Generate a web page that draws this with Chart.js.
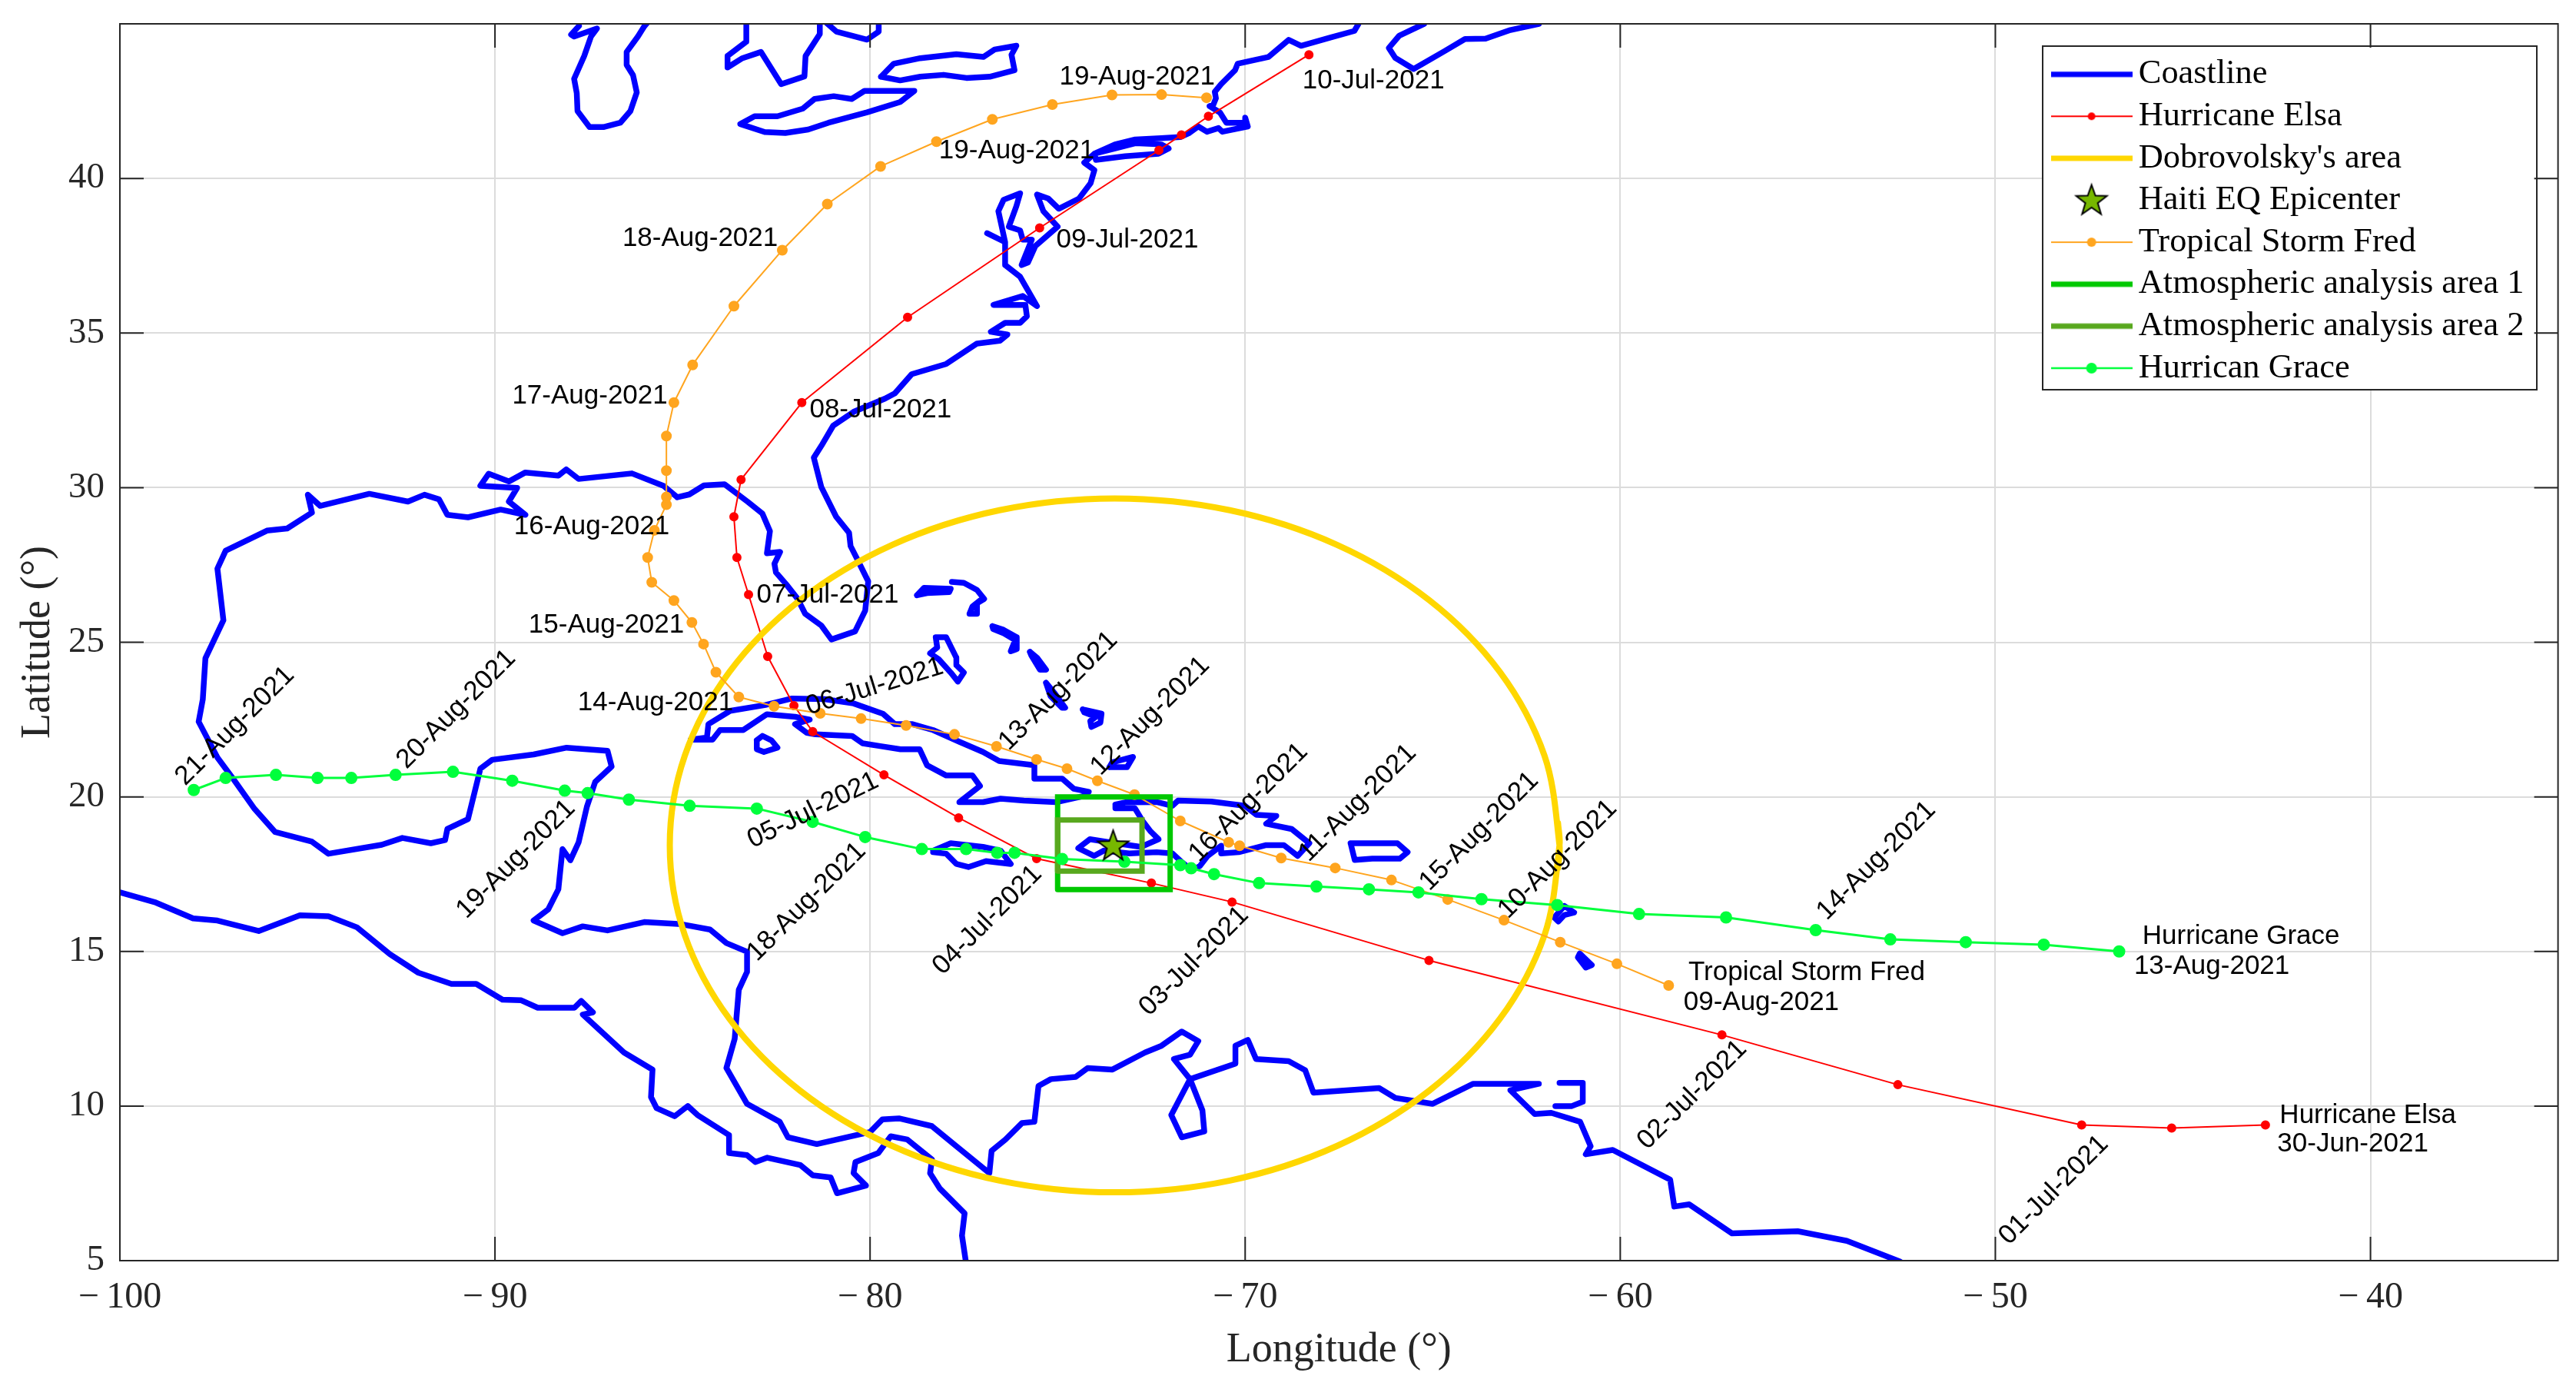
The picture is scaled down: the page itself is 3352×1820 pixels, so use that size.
<!DOCTYPE html>
<html><head><meta charset="utf-8"><style>html,body{margin:0;padding:0;background:#fff}canvas{display:block}</style>
<script src="https://cdn.jsdelivr.net/npm/chart.js@4"></script></head>
<body><canvas id="c" width="3352" height="1820"></canvas>
<script>
// ---- Values (longitude, latitude) ----
const elsaTrack=[[-42.8,9.39],[-45.3,9.29],[-47.7,9.39],[-52.6,10.69],[-57.29,12.3],[-65.1,14.71],[-70.35,16.6],[-72.5,17.21],[-75.56,18.0],[-77.64,19.32],[-79.63,20.71],[-81.53,22.11],[-82.03,22.95],[-82.73,24.54],[-83.24,26.54],[-83.55,27.74],[-83.63,29.06],[-83.44,30.26],[-81.82,32.75],[-79.0,35.51],[-75.48,38.4],[-72.3,40.91],[-71.7,41.41],[-70.98,42.01],[-68.3,44.0]];
const fredTrack=[[-58.71,13.9],[-60.09,14.6],[-61.6,15.3],[-63.1,16.01],[-64.6,16.68],[-66.1,17.31],[-67.6,17.7],[-69.04,18.02],[-70.15,18.42],[-70.44,18.53],[-71.73,19.22],[-72.95,20.07],[-73.94,20.52],[-74.75,20.91],[-75.56,21.21],[-76.63,21.63],[-77.75,22.02],[-79.04,22.31],[-80.24,22.53],[-81.33,22.7],[-82.56,22.93],[-83.5,23.23],[-84.11,24.03],[-84.44,24.94],[-84.75,25.64],[-85.23,26.35],[-85.82,26.94],[-85.93,27.74],[-85.75,28.62],[-85.43,29.45],[-85.43,29.7],[-85.43,30.55],[-85.43,31.67],[-85.23,32.75],[-84.73,33.97],[-83.63,35.87],[-82.34,37.68],[-81.14,39.17],[-79.72,40.39],[-78.23,41.19],[-76.74,41.91],[-75.14,42.39],[-73.55,42.7],[-72.23,42.71],[-71.03,42.61]];
const graceTrack=[[-46.7,15.0],[-48.71,15.22],[-50.79,15.3],[-52.8,15.39],[-54.79,15.69],[-57.18,16.1],[-59.5,16.21],[-61.68,16.5],[-63.7,16.69],[-65.38,16.91],[-66.7,17.01],[-68.1,17.1],[-69.63,17.21],[-70.83,17.5],[-71.44,17.69],[-71.73,17.79],[-73.22,17.9],[-74.88,17.99],[-76.15,18.19],[-76.61,18.19],[-77.44,18.31],[-78.62,18.31],[-80.13,18.7],[-81.53,19.19],[-83.02,19.62],[-84.81,19.71],[-86.43,19.91],[-87.53,20.12],[-88.14,20.2],[-89.54,20.52],[-91.12,20.81],[-92.65,20.71],[-93.83,20.61],[-94.73,20.61],[-95.84,20.71],[-97.18,20.61],[-98.03,20.22]];
const dobrovolskyArea=[[-61.66,17.7],[-61.62,18.43],[-62.02,21.33],[-63.21,24.04],[-65.09,26.36],[-67.55,28.15],[-70.41,29.27],[-73.48,29.65],[-76.55,29.27],[-79.41,28.15],[-81.87,26.36],[-83.75,24.04],[-84.94,21.33],[-85.34,18.43],[-84.94,15.53],[-83.75,12.82],[-81.87,10.5],[-79.41,8.71],[-76.55,7.59],[-73.48,7.21],[-70.41,7.59],[-67.55,8.71],[-65.09,10.5],[-63.21,12.82],[-62.02,15.53],[-61.62,18.43],[-61.66,19.15]];
const epicenter=[[-73.52,18.42]];
const analysisArea1=[[-75,17],[-72,17],[-72,20],[-75,20],[-75,17]];
const analysisArea2=[[-75,17.6],[-72.75,17.6],[-72.75,19.25],[-75,19.25],[-75,17.6]];

const coastAtlantic=[[-66.98,45.0],[-67.09,44.77],[-67.75,44.55],[-68.51,44.29],[-68.84,44.48],[-69.38,43.93],[-70.2,43.71],[-70.27,43.5],[-70.64,43.05],[-70.81,42.8],[-70.78,42.59],[-70.85,42.38],[-70.95,42.34],[-70.67,42.13],[-70.5,41.8],[-70.0,41.8],[-70.0,41.97],[-69.93,41.68],[-70.61,41.51],[-70.71,41.63],[-71.02,41.51],[-71.25,41.68],[-71.49,41.47],[-71.73,41.34],[-72.24,41.3],[-72.93,41.26],[-73.47,41.1],[-74.02,40.8],[-73.98,40.6],[-73.2,40.72],[-72.31,40.8],[-72.04,40.97],[-72.24,41.1],[-72.93,41.14],[-73.47,40.97],[-74.02,40.8],[-74.29,40.51],[-74.02,40.27],[-74.12,39.85],[-74.43,39.35],[-74.97,39.02],[-75.25,39.35],[-75.55,39.48],[-75.38,38.94],[-75.0,38.44],[-75.59,37.82],[-75.79,37.28],[-75.96,37.2],[-75.69,38.02],[-75.93,38.02],[-76.0,38.32],[-76.3,38.44],[-76.1,39.1],[-76.0,39.52],[-76.44,39.31],[-76.58,38.94],[-76.4,37.94],[-76.88,38.23],[-76.4,37.94],[-76.4,37.2],[-76.0,36.82],[-75.55,35.87],[-75.93,36.2],[-76.71,35.91],[-75.86,35.91],[-75.82,35.54],[-76.0,35.33],[-76.4,35.33],[-76.78,35.04],[-76.34,34.95],[-76.54,34.75],[-77.15,34.66],[-77.97,34.0],[-78.89,33.67],[-79.34,33.05],[-79.6,32.88],[-80.44,32.45],[-80.98,32.01],[-81.3,31.35],[-81.5,30.97],[-81.3,30.02],[-80.91,29.07],[-80.56,28.54],[-80.52,28.11],[-80.36,27.73],[-80.05,26.97],[-80.13,26.02],[-80.4,25.35],[-81.03,25.09],[-81.3,25.54],[-81.73,25.92],[-81.93,26.4],[-82.24,26.88],[-82.51,27.26],[-82.55,27.54],[-82.4,27.92],[-82.75,27.88],[-82.67,28.59],[-82.87,29.16],[-83.26,29.54],[-83.88,30.11],[-84.43,30.07],[-84.82,29.78],[-85.14,29.69]];
const coastGulf=[[-85.14,29.69],[-85.51,30.06],[-86.35,30.46],[-87.77,30.28],[-88.1,30.59],[-88.31,30.39],[-89.19,30.49],[-89.63,30.2],[-90.17,30.45],[-90.39,30.06],[-89.41,29.99],[-89.63,29.55],[-89.19,29.12],[-89.85,29.29],[-90.72,29.04],[-91.27,29.12],[-91.49,29.62],[-91.88,29.77],[-92.32,29.55],[-93.35,29.8],[-94.66,29.41],[-94.99,29.77],[-94.88,29.19],[-95.54,28.68],[-96.08,28.61],[-97.18,27.96],[-97.4,27.38],[-97.24,25.71],[-97.72,24.48],[-97.79,23.15],[-97.9,22.43],[-97.4,21.27],[-96.96,20.55],[-96.41,19.61],[-95.86,18.86],[-94.88,18.55],[-94.44,18.16],[-93.02,18.45],[-92.47,18.67],[-91.71,18.5],[-91.33,18.6],[-91.27,18.96],[-90.72,19.28],[-90.39,20.91],[-90.07,21.2],[-88.97,21.37],[-88.09,21.59],[-87.0,21.49],[-86.89,20.98],[-87.33,20.48],[-87.55,19.68],[-87.77,18.53],[-87.99,17.95],[-88.2,18.31],[-88.31,17.01],[-88.58,16.36],[-88.97,16.0],[-88.2,15.59],[-87.66,15.81],[-87.0,15.68],[-86.02,15.95],[-85.03,15.88],[-84.27,15.71],[-83.83,15.27],[-83.28,14.99],[-83.28,14.34],[-83.5,13.76],[-83.61,12.17],[-83.83,11.23],[-83.28,10.07],[-82.41,9.49],[-82.19,8.99],[-81.42,8.77],[-80.0,9.16],[-79.67,9.57],[-79.23,9.6],[-78.35,9.35],[-77.7,8.7],[-76.82,7.83],[-76.76,8.55],[-76.39,8.92],[-75.95,9.45],[-75.62,9.49],[-75.51,10.65],[-75.18,10.87],[-74.52,10.94],[-74.2,11.23],[-73.54,11.18],[-72.67,11.73],[-72.23,11.95],[-71.69,12.41],[-71.25,12.1],[-71.47,11.66],[-71.9,11.52],[-71.47,10.87],[-71.97,9.71],[-71.69,8.99],[-71.09,9.18],[-71.14,9.86],[-71.47,10.87],[-70.26,11.37],[-70.26,11.95],[-69.93,12.14],[-69.71,11.52],[-68.84,11.45],[-68.4,11.16],[-68.18,10.43],[-66.43,10.58],[-65.99,10.26],[-65.01,10.07],[-63.92,10.72],[-62.17,10.72],[-62.93,10.51],[-62.28,9.74],[-61.84,9.78],[-61.07,9.49],[-60.79,8.7],[-60.92,8.44],[-60.2,8.58],[-58.67,7.62],[-58.56,6.75],[-58.16,6.82],[-57.02,5.88],[-55.27,5.95],[-53.96,5.64],[-52.54,4.97]];
const coastPacific=[[-100,16.91],[-99.04,16.58],[-98.05,16.07],[-97.4,16.0],[-96.3,15.66],[-95.2,16.17],[-94.44,16.14],[-93.68,15.78],[-92.8,14.91],[-92.04,14.31],[-91.16,13.95],[-90.5,13.95],[-89.8,13.44],[-89.3,13.42],[-88.86,13.18],[-87.88,13.18],[-87.7,13.4],[-87.39,13.03],[-87.66,12.96],[-86.56,11.73],[-85.8,11.18],[-85.84,10.29],[-85.69,9.93],[-85.21,9.67],[-84.86,10.0],[-84.6,9.71],[-83.76,9.06],[-83.76,8.48],[-83.28,8.41],[-83.06,8.19],[-82.74,8.33],[-81.86,8.09],[-81.53,7.76],[-81.05,7.69],[-80.88,7.18],[-80.11,7.43],[-80.44,7.83],[-80.39,8.19],[-79.78,8.48],[-79.45,9.02],[-79.01,8.92],[-78.35,8.27],[-78.4,7.83],[-78.14,7.33],[-77.48,6.53],[-77.55,5.81],[-77.44,4.91]];
const coastNovaScotia=[[-62.17,45],[-62.93,44.8],[-63.59,44.52],[-64.14,44.51],[-64.68,44.12],[-65.51,43.54],[-66.0,43.9],[-66.17,44.22],[-65.89,44.62],[-65.23,45.0]];
const lakeMichigan=[[-87.76,44.93],[-87.97,44.65],[-87.89,44.59],[-87.28,44.85],[-87.44,44.59],[-87.62,43.96],[-87.89,43.22],[-87.82,42.76],[-87.8,42.18],[-87.48,41.66],[-87.11,41.66],[-86.66,41.8],[-86.39,42.18],[-86.22,42.78],[-86.32,43.34],[-86.49,43.67],[-86.49,44.09],[-86.19,44.59],[-86.02,44.92],[-85.88,45.12]];
const lakeHuron=[[-83.3,45.08],[-83.3,44.42],[-83.8,43.96],[-83.8,43.59],[-83.42,43.88],[-82.91,44.09],[-82.37,43.05],[-81.75,43.3],[-81.72,43.96],[-81.34,44.67],[-81.34,45.08]];
const georgianBay=[[-81.17,45.04],[-80.9,44.75],[-80.08,44.49],[-79.77,44.75],[-79.77,45.04]];
const lakeErie=[[-83.46,41.76],[-83.08,42.01],[-82.47,42.01],[-81.79,42.26],[-81.48,42.57],[-80.97,42.66],[-80.49,42.57],[-80.15,42.83],[-78.82,42.83],[-79.2,42.47],[-80.08,42.14],[-81.11,41.8],[-81.65,41.58],[-82.26,41.47],[-82.81,41.5],[-83.46,41.76]];
const lakeOntario=[[-79.71,43.29],[-79.37,43.71],[-78.66,43.89],[-77.7,44.02],[-76.98,43.93],[-76.68,44.17],[-76.1,44.29],[-76.23,44.0],[-76.15,43.5],[-76.81,43.29],[-77.43,43.25],[-78.04,43.35],[-78.66,43.29],[-79.2,43.17],[-79.71,43.29]];
const cuba=[[-84.78,21.85],[-84.35,21.92],[-84.31,22.35],[-83.73,22.78],[-82.79,22.97],[-82.08,23.18],[-81.22,23.16],[-80.44,23.02],[-79.66,22.69],[-79.34,22.35],[-78.87,22.35],[-78.32,22.16],[-77.62,21.78],[-76.99,21.45],[-76.56,21.16],[-75.62,21.02],[-75.62,20.59],[-74.88,20.59],[-74.57,20.26],[-74.17,20.16],[-74.33,20.02],[-75.04,19.83],[-75.9,19.88],[-76.52,19.94],[-76.99,19.83],[-77.62,19.83],[-77.07,20.35],[-77.27,20.69],[-77.97,20.69],[-78.48,21.02],[-78.68,21.54],[-79.19,21.54],[-79.73,21.64],[-80.2,21.73],[-80.48,21.97],[-81.46,22.02],[-81.69,22.07],[-82.0,22.35],[-81.61,22.5],[-82.0,22.59],[-82.75,22.67],[-83.38,22.16],[-84.0,22.16],[-84.2,21.85],[-84.78,21.85]];
const juventud=[[-83.02,21.83],[-82.87,21.97],[-82.63,21.83],[-82.47,21.59],[-82.83,21.45],[-83.02,21.54],[-83.02,21.83]];
const andros=[[-78.25,25.16],[-77.97,25.16],[-77.7,24.5],[-77.7,24.26],[-77.5,24.02],[-77.66,23.73],[-77.85,24.02],[-78.17,24.45],[-78.4,24.64],[-78.21,24.83],[-78.25,25.16]];
const grandBahama=[[-78.75,26.52],[-78.56,26.76],[-77.85,26.73],[-77.89,26.62],[-78.48,26.59],[-78.75,26.52]];
const abaco=[[-77.82,26.95],[-77.5,26.92],[-77.15,26.69],[-76.96,26.4],[-77.15,26.26],[-77.15,25.92],[-77.35,25.92],[-77.27,26.16],[-77.07,26.35]];
const eleuthera=[[-76.74,25.52],[-76.44,25.4],[-76.09,25.16],[-76.09,24.78],[-76.25,24.71],[-76.13,25.07],[-76.44,25.29],[-76.72,25.43],[-76.74,25.52]];
const catIsland=[[-75.74,24.69],[-75.55,24.5],[-75.31,24.11],[-75.47,24.11],[-75.7,24.57],[-75.74,24.69]];
const longIsland=[[-75.31,23.69],[-75.08,23.35],[-74.8,22.88],[-74.88,22.88],[-75.19,23.26],[-75.31,23.69]];
const acklins=[[-74.33,22.83],[-73.83,22.69],[-73.86,22.4],[-74.1,22.26],[-74.13,22.45],[-73.98,22.59],[-74.29,22.73],[-74.33,22.83]];
const inagua=[[-73.62,20.96],[-73.55,21.11],[-72.99,21.29],[-73.15,20.96],[-73.62,20.96]];
const hispaniola=[[-73.46,19.75],[-73.2,19.82],[-72.36,19.83],[-71.94,19.71],[-71.79,19.88],[-70.9,19.85],[-70.01,19.71],[-69.7,19.42],[-69.17,19.38],[-69.44,19.13],[-68.76,18.96],[-68.29,18.5],[-68.6,18.09],[-68.97,18.44],[-69.44,18.44],[-70.17,18.21],[-70.64,18.17],[-70.64,18.42],[-71.0,18.09],[-71.21,17.76],[-71.42,17.63],[-71.68,17.88],[-71.94,18.17],[-72.36,18.21],[-73.09,18.17],[-73.77,18.26],[-74.03,18.09],[-74.45,18.34],[-74.14,18.63],[-73.72,18.55],[-72.78,18.38],[-72.31,18.63],[-72.52,18.88],[-72.73,19.21],[-72.94,19.63],[-73.46,19.63],[-73.46,19.75]];
const jamaica=[[-78.32,18.26],[-77.85,18.5],[-76.99,18.38],[-76.52,18.26],[-76.25,17.83],[-76.91,17.92],[-77.38,17.73],[-77.7,17.83],[-77.97,18.16],[-78.32,18.21]];
const puertoRico=[[-67.19,18.5],[-65.94,18.5],[-65.67,18.21],[-65.88,18.0],[-66.61,18.0],[-67.08,17.96],[-67.19,18.5]];
const guadeloupe=[[-61.76,16.1],[-61.49,16.47],[-61.23,16.26],[-61.49,16.18],[-61.65,15.97],[-61.76,16.1]];
const martinique=[[-61.08,14.93],[-60.76,14.56],[-60.92,14.48],[-61.13,14.81],[-61.08,14.93]];
const trinidad=[[-61.62,10.75],[-61.0,10.75],[-61.0,10.14],[-61.29,10.0],[-61.73,10.0]];
const coastlines=[coastAtlantic,coastGulf,coastPacific,coastNovaScotia,lakeMichigan,lakeHuron,georgianBay,lakeErie,lakeOntario,cuba,juventud,andros,grandBahama,abaco,eleuthera,catIsland,longIsland,acklins,inagua,hispaniola,jamaica,puertoRico,guadeloupe,martinique,trinidad];

const xTicks=[-100,-90,-80,-70,-60,-50,-40];
const yTicks=[5,10,15,20,25,30,35,40];
const legendNames=['Coastline','Hurricane Elsa',"Dobrovolsky's area",'Haiti EQ Epicenter','Tropical Storm Fred','Atmospheric analysis area 1','Atmospheric analysis area 2','Hurrican Grace'];
// text, longitude, latitude of the middle of each annotation
const flatNotes=[['19-Aug-2021',-72.88,43.27],['10-Jul-2021',-66.58,43.16],['19-Aug-2021',-76.09,40.89],['18-Aug-2021',-84.53,38.05],['09-Jul-2021',-73.14,38.0],['08-Jul-2021',-79.72,32.52],['17-Aug-2021',-87.47,32.95],['16-Aug-2021',-87.42,28.74],['07-Jul-2021',-81.13,26.52],['15-Aug-2021',-87.03,25.55],['14-Aug-2021',-85.72,23.04],['Tropical Storm Fred',-55.03,14.32],['09-Aug-2021',-56.24,13.35],['Hurricane Grace',-43.45,15.48],['13-Aug-2021',-44.23,14.52],['Hurricane Elsa',-40.07,9.68],['30-Jun-2021',-40.47,8.77]];
const slantNotes=[['21-Aug-2021',-96.93,22.29,45],['20-Aug-2021',-91.03,22.83,45],['19-Aug-2021',-89.44,17.98,45],['18-Aug-2021',-81.69,16.6,45],['05-Jul-2021',-81.52,19.56,26],['06-Jul-2021',-79.88,23.56,17],['13-Aug-2021',-74.98,23.42,45],['12-Aug-2021',-72.53,22.61,45],['04-Jul-2021',-76.87,16.01,45],['16-Aug-2021',-69.91,19.81,45],['11-Aug-2021',-67.0,19.8,45],['15-Aug-2021',-63.76,18.88,45],['10-Aug-2021',-61.67,17.98,45],['14-Aug-2021',-53.17,17.93,45],['03-Jul-2021',-71.36,14.68,45],['02-Jul-2021',-58.08,10.36,45],['01-Jul-2021',-48.44,7.28,45]];

// ---- Helpers ----
const xy=a=>a.map(p=>({x:p[0],y:p[1]}));
const coastData=[];
coastlines.forEach(s=>{coastData.push(...xy(s));coastData.push({x:null,y:null});});

function starPath(g,cx,cy,R,r){g.beginPath();for(let i=0;i<10;i++){const a=-Math.PI/2+i*Math.PI/5,q=i%2?r:R;const X=cx+q*Math.cos(a),Y=cy+q*Math.sin(a);i?g.lineTo(X,Y):g.moveTo(X,Y);}g.closePath();}
function starCanvas(){const c=document.createElement('canvas');c.width=c.height=48;const g=c.getContext('2d');starPath(g,24,25,21,8.5);g.fillStyle='#77b800';g.fill();g.lineWidth=2;g.strokeStyle='#000';g.lineJoin='miter';g.stroke();return c;}
const STAR=starCanvas();
function sample(color,lw,mr){const c=document.createElement('canvas');c.width=106;c.height=30;const g=c.getContext('2d');g.strokeStyle=color;g.lineWidth=lw;g.beginPath();g.moveTo(0,15);g.lineTo(106,15);g.stroke();if(mr){g.fillStyle=color;g.beginPath();g.arc(53,15,mr,0,7);g.fill();}return c;}
const legendSamples=[sample('#0000ff',7),sample('#ff0000',2,5),sample('#ffd700',7),STAR,sample('#ffa51f',2,6),sample('#00c800',7),sample('#58a81e',7),sample('#00ff3c',2.5,7)];

const line=(label,data,color,w,extra)=>Object.assign({label,data,showLine:true,borderColor:color,backgroundColor:color,borderWidth:w,pointRadius:0,pointHoverRadius:0,borderJoinStyle:'round',borderCapStyle:'round'},extra||{});
const datasets=[
 line(legendNames[0],coastData,'#0000ff',7.5,{spanGaps:false,order:8}),
 line(legendNames[1],xy(elsaTrack),'#ff0000',2,{pointRadius:5,order:7}),
 line(legendNames[2],xy(dobrovolskyArea),'#ffd700',8,{tension:0.34,order:6}),
 {label:legendNames[3],data:xy(epicenter),showLine:false,pointStyle:STAR,pointRadius:20,order:0},
 line(legendNames[4],xy(fredTrack),'#ffa51f',2,{pointRadius:6,order:5}),
 line(legendNames[5],xy(analysisArea1),'#00c800',7,{order:4,borderJoinStyle:'miter'}),
 line(legendNames[6],xy(analysisArea2),'#58a81e',7,{order:3,borderJoinStyle:'miter'}),
 line(legendNames[7],xy(graceTrack),'#00ff3c',3,{pointRadius:6.5,order:2})
];

const L=156,R=3328.6,T=31,B=1640;
const framePlugin={id:'frame',
 afterLayout(chart){
   const lg=chart.legend;
   lg.left=2672.4;lg.top=64.3;lg.right=3301;lg.bottom=560;lg.width=lg.right-lg.left;lg.height=lg.bottom-lg.top;
   if(!lg._wrapped){lg._wrapped=true;lg.draw=function(){const g=this.ctx;g.save();g.fillStyle='#fff';g.strokeStyle='#262626';g.lineWidth=2;g.beginPath();g.rect(2658,60,643,447);g.fill();g.stroke();g.restore();this._draw();};}
 },
 afterDatasetsDraw(chart){
   const g=chart.ctx,a=chart.chartArea,sx=chart.scales.x,sy=chart.scales.y;
   g.save();
   g.strokeStyle='#262626';g.lineWidth=2;
   g.beginPath();
   const TL=31;
   xTicks.forEach(v=>{const p=sx.getPixelForValue(v);
     if(v>-100){g.moveTo(p,a.top);g.lineTo(p,a.top+TL);}
     if(v>-100){g.moveTo(p,a.bottom);g.lineTo(p,a.bottom-TL);}});
   yTicks.forEach(v=>{if(v===5)return;const p=sy.getPixelForValue(v);g.moveTo(a.left,p);g.lineTo(a.left+TL,p);g.moveTo(a.right,p);g.lineTo(a.right-TL,p);});
   g.stroke();
   g.strokeRect(a.left,a.top,a.right-a.left,a.bottom-a.top);
   g.fillStyle='#000';g.font='35px "Liberation Sans"';g.textAlign='center';g.textBaseline='middle';
   flatNotes.forEach(n=>g.fillText(n[0],sx.getPixelForValue(n[1]),sy.getPixelForValue(n[2])));
   slantNotes.forEach(n=>{g.save();g.translate(sx.getPixelForValue(n[1]),sy.getPixelForValue(n[2]));g.rotate(-n[3]*Math.PI/180);g.fillText(n[0],0,0);g.restore();});
   g.restore();
 }};

new Chart(document.getElementById('c'),{
 type:'scatter',
 data:{datasets},
 plugins:[framePlugin],
 options:{
  responsive:false,animation:false,devicePixelRatio:1,
  events:[],
  layout:{padding:{left:0,top:T,right:3352-R,bottom:0}},
  plugins:{tooltip:{enabled:false},
   legend:{position:'chartArea',align:'start',
    labels:{font:{family:'"Liberation Serif"',size:44.4},color:'#000',usePointStyle:true,pointStyleWidth:78,padding:10.2,
     generateLabels:()=>legendNames.map((t,i)=>({text:t,pointStyle:legendSamples[i],fillStyle:'#000',strokeStyle:'#000',lineWidth:0,hidden:false,datasetIndex:i,fontColor:'#000'}))}}},
  scales:{
   x:{type:'linear',min:-100,max:-35,
    afterFit:s=>{s.height=1820-B;s.paddingLeft=0;s.paddingRight=0;},
    afterBuildTicks:s=>{s.ticks=xTicks.map(v=>({value:v}));},
    grid:{color:'#dcdcdc',lineWidth:2,drawTicks:false},border:{display:false},
    ticks:{autoSkip:false,maxRotation:0,padding:20,color:'#262626',font:{family:'"Liberation Serif"',size:48},callback:v=>v<0?'\u2212\u2009'+Math.abs(v):''+v},
    title:{display:true,text:'Longitude (°)',color:'#262626',font:{family:'"Liberation Serif"',size:54},padding:{top:0,bottom:31}}},
   y:{type:'linear',min:5,max:45,
    afterFit:s=>{s.width=L;s.paddingTop=0;s.paddingBottom=0;},
    afterBuildTicks:s=>{s.ticks=yTicks.map(v=>({value:v}));},
    grid:{color:'#dcdcdc',lineWidth:2,drawTicks:false},border:{display:false},
    ticks:{autoSkip:false,padding:20,color:'#262626',font:{family:'"Liberation Serif"',size:47},callback:v=>''+v},
    title:{display:true,text:'Latitude (°)',color:'#262626',font:{family:'"Liberation Serif"',size:54},padding:{top:17,bottom:0}}}
  }
 }
});
</script></body></html>
